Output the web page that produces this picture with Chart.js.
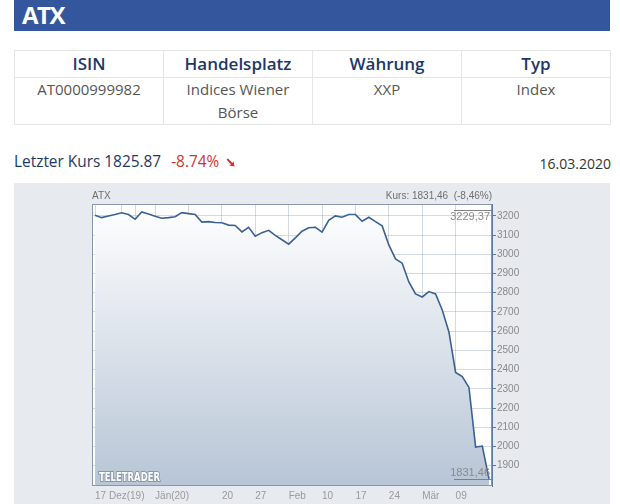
<!DOCTYPE html>
<html lang="de">
<head>
<meta charset="utf-8">
<title>ATX</title>
<script src="https://cdn.jsdelivr.net/npm/chart.js@4.4.1/dist/chart.umd.min.js"></script>
<style>
  body { margin:0; background:#fff; font-family:"Open Sans", sans-serif; width:620px; height:504px; overflow:hidden; position:relative; }
  #kopf { position:absolute; left:14px; top:0; width:596px; height:31px; background:#34569c; }
  #kopf span { position:absolute; left:8px; top:0; color:#fff; font-weight:700; font-size:24px; letter-spacing:-1.5px; line-height:30px; }
  table { position:absolute; left:14px; top:50px; width:597px; border-collapse:collapse; table-layout:fixed; }
  th, td { border:1px solid #e6e6e6; text-align:center; padding:0; }
  th { color:#1e3769; font-weight:600; font-size:17px; height:26px; line-height:26px; }
  td { color:#555; font-size:15px; line-height:23px; vertical-align:top; height:46px; }
  #kurs { position:absolute; left:14px; top:151px; font-size:15.4px; color:#1e3a64; white-space:nowrap; }
  #kurs .neg { color:#d6302e; margin-left:6px; }
  #kurs svg { margin-left:7px; }
  #datum { position:absolute; right:9px; top:154px; font-size:14px; color:#333; }
  #panel { position:absolute; left:14px; top:183px; width:596px; height:321px; background:#e7eaee; }
  #panel canvas { position:absolute; left:0; top:0; }
</style>
</head>
<body>
<div id="kopf"><span>ATX</span></div>
<table>
  <tr><th>ISIN</th><th>Handelsplatz</th><th>Währung</th><th>Typ</th></tr>
  <tr><td>AT0000999982</td><td>Indices Wiener<br>Börse</td><td>XXP</td><td>Index</td></tr>
</table>
<div id="kurs">Letzter Kurs 1825.87 <span class="neg">-8.74%</span><svg width="9" height="9" viewBox="0 0 9 9"><path d="M0.5 1.5 L2 0.5 L6.5 5 L7.5 3 L8.5 8.5 L3 7.5 L5 6.5 Z" fill="#d6302e"/></svg></div>
<div id="datum">16.03.2020</div>
<div id="panel"><canvas id="chart" width="596" height="321"></canvas></div>
<script>
// Handelstage (Index 0 .. 59)
const tage = [
  '17.12.2019','18.12.2019','19.12.2019','20.12.2019','23.12.2019','27.12.2019','30.12.2019',
  '02.01.2020','03.01.2020','06.01.2020','07.01.2020','08.01.2020','09.01.2020','10.01.2020',
  '13.01.2020','14.01.2020','15.01.2020','16.01.2020','17.01.2020','20.01.2020','21.01.2020',
  '22.01.2020','23.01.2020','24.01.2020','27.01.2020','28.01.2020','29.01.2020','30.01.2020',
  '31.01.2020','03.02.2020','04.02.2020','05.02.2020','06.02.2020','07.02.2020','10.02.2020',
  '11.02.2020','12.02.2020','13.02.2020','14.02.2020','17.02.2020','18.02.2020','19.02.2020',
  '20.02.2020','21.02.2020','24.02.2020','25.02.2020','26.02.2020','27.02.2020','28.02.2020',
  '02.03.2020','03.03.2020','04.03.2020','05.03.2020','06.03.2020','09.03.2020','10.03.2020',
  '11.03.2020','12.03.2020','13.03.2020','16.03.2020'
];

// Schlusskurse ATX
const schlusskurse = [
  3204, 3191, 3200, 3207, 3216, 3207, 3183, 3221, 3210, 3198,
  3188, 3191, 3196, 3217, 3212, 3207, 3168, 3170, 3166, 3164,
  3152, 3150, 3117, 3141, 3094, 3113, 3125, 3099, 3076, 3053,
  3086, 3120, 3138, 3141, 3116, 3177, 3200, 3193, 3207, 3207,
  3172, 3193, 3170, 3148, 3049, 2976, 2954, 2856, 2794, 2778,
  2806, 2794, 2710, 2596, 2385, 2364, 2307, 1997, 2002, 1831.46
];

// Achsenbeschriftung
const xTickIndex = [0, 4, 6, 9, 14, 19, 24, 29, 34, 39, 44, 49, 54];
const xTickText = ['17 Dez(19)', '', '', 'Jän(20)', '', '20', '27', 'Feb', '10', '17', '24', 'Mär', '09'];
const yTicks = [1900, 2000, 2100, 2200, 2300, 2400, 2500, 2600, 2700, 2800, 2900, 3000, 3100, 3200];

// Hoch / Tief Markierung und Kopfzeile
const hoch = 3229.37;
const tief = 1831.46;
const titelLinks = 'ATX';
const titelRechts = 'Kurs: 1831,46  (-8,46%)';

const gitterFarbe = 'rgba(120,140,170,0.32)';
const schrift = { family: '"Liberation Sans", Arial, sans-serif', size: 10 };

function fmt(v) {
  return v.toFixed(2).replace('.', ',');
}

// Rahmen, Titel, Hoch/Tief und Logo zeichnen
const rahmen = {
  id: 'rahmen',
  beforeDraw(chart) {
    const { ctx, chartArea: a } = chart;
    ctx.save();
    ctx.fillStyle = '#ffffff';
    ctx.fillRect(a.left, a.top, a.right - a.left, a.bottom - a.top);
    ctx.restore();
  },
  afterDraw(chart) {
    const { ctx, chartArea: a, scales } = chart;
    const y = scales.y;
    ctx.save();
    ctx.strokeStyle = '#8797af';
    ctx.lineWidth = 1;
    ctx.strokeRect(a.left + 0.5, a.top + 0.5, a.right - a.left - 1, a.bottom - a.top - 1);

    ctx.fillStyle = '#6f6f6f';
    ctx.font = '10px "Liberation Sans", Arial, sans-serif';
    ctx.textBaseline = 'middle';
    ctx.textAlign = 'left';
    ctx.fillText(titelLinks, a.left, a.top - 8);
    ctx.textAlign = 'right';
    ctx.fillText(titelRechts, a.right, a.top - 8);

    // Hoch / Tief
    const yH = Math.round(y.getPixelForValue(hoch)) + 0.5;
    const yT = Math.round(y.getPixelForValue(tief)) + 0.5;
    ctx.strokeStyle = '#808080';
    ctx.beginPath();
    ctx.moveTo(a.right - 38, yH); ctx.lineTo(a.right, yH);
    ctx.moveTo(a.right - 38, yT); ctx.lineTo(a.right, yT);
    ctx.stroke();
    ctx.fillStyle = '#8a8a8a';
    ctx.font = '11px "Liberation Sans", Arial, sans-serif';
    ctx.textAlign = 'right';
    ctx.textBaseline = 'top';
    ctx.fillText(fmt(hoch), a.right - 2, yH + 1);
    ctx.textBaseline = 'bottom';
    ctx.fillText(fmt(tief), a.right - 2, yT - 1);

    // Logo
    ctx.font = 'bold 12px "DejaVu Sans Condensed", "DejaVu Sans", sans-serif';
    ctx.textAlign = 'left';
    ctx.textBaseline = 'middle';
    const w = ctx.measureText('TELETRADER').width;
    ctx.translate(a.left + 7, a.bottom - 8);
    ctx.scale(61 / w, 1);
    ctx.lineWidth = 2;
    ctx.strokeStyle = '#8a96a6';
    ctx.strokeText('TELETRADER', 0, 0);
    ctx.fillStyle = '#ffffff';
    ctx.fillText('TELETRADER', 0, 0);
    ctx.restore();
  }
};

const ctx = document.getElementById('chart').getContext('2d');
const chart = new Chart(ctx, {
  type: 'line',
  data: {
    labels: tage,
    datasets: [{
      label: 'ATX',
      data: schlusskurse.map((v, i) => ({ x: i, y: v })),
      borderColor: '#3a6193',
      borderWidth: 1.6,
      pointRadius: 0,
      tension: 0,
      fill: 'start',
      backgroundColor: (c) => {
        const area = c.chart.chartArea;
        if (!area) return 'rgba(0,0,0,0)';
        const g = c.chart.ctx.createLinearGradient(0, area.top, 0, area.bottom);
        g.addColorStop(0, '#ffffff');
        g.addColorStop(1, '#b7c5d6');
        return g;
      }
    }]
  },
  options: {
    responsive: false,
    animation: false,
    devicePixelRatio: 1,
    layout: { padding: { left: 78, right: 78, top: 21, bottom: 0 } },
    plugins: { legend: { display: false }, tooltip: { enabled: false } },
    scales: {
      x: {
        type: 'linear',
        min: -0.45,
        max: 59.45,
        z: 1,
        afterBuildTicks: (s) => { s.ticks = xTickIndex.map(v => ({ value: v })); },
        afterFit: (s) => { s.height = 18; },
        grid: { color: gitterFarbe, drawTicks: false },
        border: { display: false },
        ticks: {
          autoSkip: false,
          maxRotation: 0,
          align: 'start',
          padding: 4,
          color: '#9a9a9a',
          font: schrift,
          callback: (v) => xTickText[xTickIndex.indexOf(v)]
        }
      },
      y: {
        position: 'right',
        min: 1794,
        max: 3262,
        z: 1,
        afterBuildTicks: (s) => { s.ticks = yTicks.map(v => ({ value: v })); },
        afterFit: (s) => { s.width = 40; },
        grid: { color: gitterFarbe, tickLength: 4, tickColor: '#5c7aa3' },
        border: { color: '#5c7aa3' },
        ticks: { color: '#8a8a8a', font: schrift, padding: 1, callback: (v) => String(v) }
      }
    }
  },
  plugins: [rahmen]
});
</script>
</body>
</html>
